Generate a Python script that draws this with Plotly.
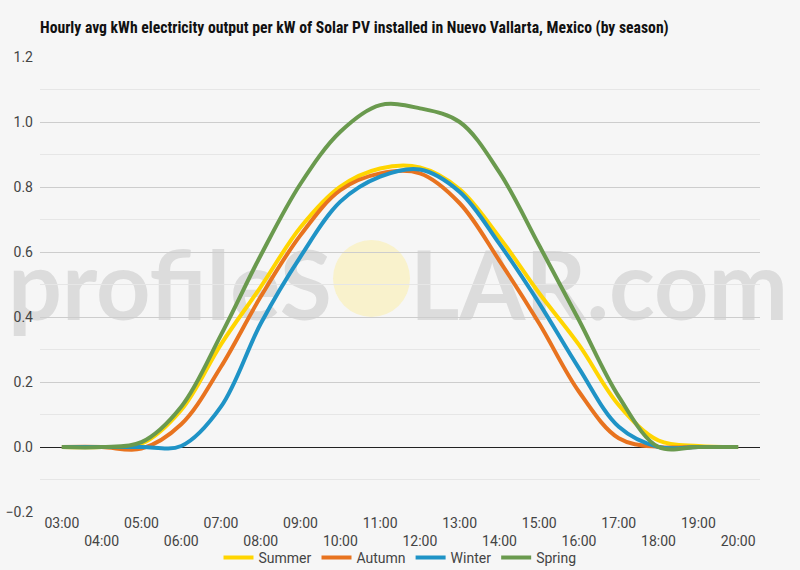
import plotly.graph_objects as go

hours = ["03:00", "04:00", "05:00", "06:00", "07:00", "08:00", "09:00", "10:00", "11:00",
         "12:00", "13:00", "14:00", "15:00", "16:00", "17:00", "18:00", "19:00", "20:00"]

summer = [0, 0, 0.010, 0.114, 0.316, 0.493, 0.676, 0.801, 0.857, 0.860, 0.793, 0.645,
          0.473, 0.314, 0.129, 0.020, 0.003, 0]
autumn = [0, 0, -0.005, 0.070, 0.247, 0.463, 0.652, 0.790, 0.842, 0.842, 0.750, 0.573,
          0.380, 0.170, 0.027, 0.000, 0, 0]
winter = [0, 0, 0, 0.003, 0.124, 0.380, 0.586, 0.755, 0.832, 0.854, 0.785, 0.625,
          0.442, 0.242, 0.062, 0.000, 0, 0]
spring = [0, 0, 0.015, 0.124, 0.345, 0.590, 0.810, 0.970, 1.052, 1.042, 1.000, 0.845,
          0.620, 0.390, 0.155, 0.000, 0, 0]

series = [("Summer", summer, "#ffd500"),
          ("Autumn", autumn, "#e8731f"),
          ("Winter", winter, "#1f93c6"),
          ("Spring", spring, "#6a9a4e")]

# alternate the hour labels on two rows like the original
tick_text = [h if i % 2 == 0 else "<br>" + h for i, h in enumerate(hours)]

BG = "#f6f6f6"
W, H = 800, 570
L, R, T, B = 40, 40, 57, 58
pw, ph = W - L - R, H - T - B


def px_x(x):
    return (x - L) / pw


def px_y(y):
    return (H - B - y) / ph


fig = go.Figure()
for name, vals, color in series:
    fig.add_trace(go.Scatter(
        x=hours, y=vals, name=name, mode="lines",
        line=dict(color=color, width=4, shape="spline", smoothing=1.0),
        hovertemplate=name + " %{x}: %{y:.2f}<extra></extra>"
    ))

# watermark behind the grid
wm_font = dict(family="Lato, Open Sans, sans-serif", size=95, color="#dcdcdc")
fig.add_shape(type="rect", xref="paper", yref="paper", layer="below",
              x0=px_x(5), x1=px_x(330), y0=px_y(321), y1=px_y(243),
              line=dict(width=0), fillcolor="rgba(0,0,0,0)",
              label=dict(text="<b>profileS</b>", font=wm_font, textposition="middle left", padding=0))
fig.add_shape(type="rect", xref="paper", yref="paper", layer="below",
              x0=px_x(407), x1=px_x(793), y0=px_y(321), y1=px_y(243),
              line=dict(width=0), fillcolor="rgba(0,0,0,0)",
              label=dict(text="<b>LAR.com</b>", font=wm_font, textposition="middle left", padding=0))
fig.add_shape(type="circle", xref="paper", yref="paper", layer="below",
              x0=px_x(333), x1=px_x(410), y0=px_y(317), y1=px_y(240),
              fillcolor="#f9f2cc", line=dict(width=0))

fig.update_layout(
    width=W, height=H,
    margin=dict(l=L, r=R, t=T, b=B),
    paper_bgcolor=BG, plot_bgcolor=BG,
    font=dict(family="Roboto, sans-serif", size=14, color="#444"),
    title=dict(text="<b>Hourly avg kWh electricity output per kW of Solar PV installed in Nuevo Vallarta, Mexico (by season)</b>",
               x=40 / W, xanchor="left", y=1 - 28 / H, yanchor="middle",
               font=dict(family="Roboto Condensed, Liberation Sans Narrow, Roboto, sans-serif",
                         size=15.7, color="#111")),
    showlegend=True,
    legend=dict(orientation="h", x=0.5, xanchor="center", yref="container",
                y=(H - 558) / H, yanchor="middle",
                font=dict(size=14, color="#444"), itemwidth=30, bgcolor="rgba(0,0,0,0)"),
    xaxis=dict(type="category", tickvals=hours, ticktext=tick_text, showgrid=False,
               range=[-0.55, 17.55], automargin=False,
               ticks="", zeroline=False, showline=False, ticklabelstandoff=1),
    yaxis=dict(range=[-0.2, 1.2], dtick=0.2, tickformat=".1f", showgrid=True,
               automargin=False, ticklabelstandoff=6,
               gridcolor="#cdcdcd", gridwidth=1, zeroline=True, zerolinecolor="#222",
               zerolinewidth=1, ticks="",
               minor=dict(dtick=0.1, showgrid=True, gridcolor="#e6e6e6", gridwidth=1)),
)

fig.write_html("out.html", config={"displayModeBar": False},
               post_script="document.body.style.margin='0';document.body.style.background='%s';" % BG)
